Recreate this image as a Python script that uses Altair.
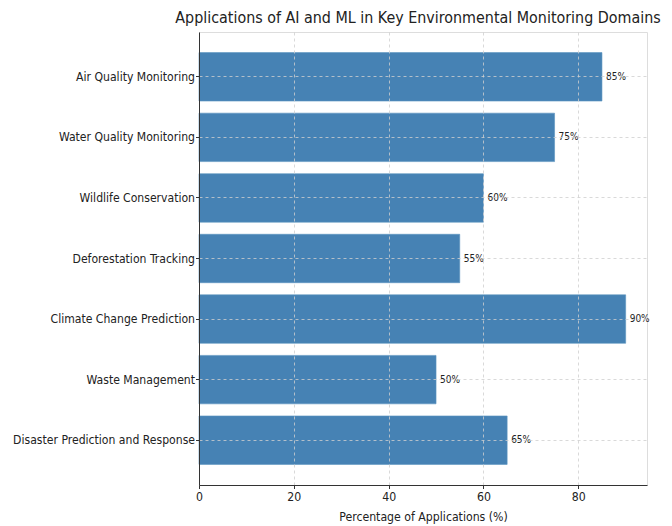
import altair as alt
import pandas as pd

# Application domains and their share of AI/ML applications (%)
domains = [
    "Air Quality Monitoring",
    "Water Quality Monitoring",
    "Wildlife Conservation",
    "Deforestation Tracking",
    "Climate Change Prediction",
    "Waste Management",
    "Disaster Prediction and Response",
]
percentages = [85, 75, 60, 55, 90, 50, 65]

df = pd.DataFrame({"domain": domains, "pct": percentages})
df["label"] = df["pct"].astype(str) + "%"

FONT = "DejaVu Sans Condensed"

y_enc = alt.Y(
    "domain:N",
    sort=domains,
    title=None,
    scale=alt.Scale(paddingInner=0.2, paddingOuter=0.34),
    axis=alt.Axis(
        bandPosition=0.5,
        grid=True,
        gridDash=[3, 3],
        gridColor="#cfcfcf",
        gridWidth=0.8,
        zindex=1,
        labelFontSize=12.1,
        labelFont=FONT,
        labelColor="#222",
        labelLimit=0,
        labelPadding=1,
        tickSize=3.5,
        tickColor="#333",
        domainColor="#333",
    ),
)

x_enc = alt.X(
    "pct:Q",
    title="Percentage of Applications (%)",
    scale=alt.Scale(domain=[0, 94.5], nice=False),
    axis=alt.Axis(
        values=[0, 20, 40, 60, 80],
        grid=True,
        gridDash=[3, 3],
        gridColor="#cfcfcf",
        gridWidth=0.8,
        zindex=1,
        labelFontSize=12.2,
        labelFont=FONT,
        labelColor="#222",
        labelFlush=False,
        titleFontSize=12.2,
        titleFont=FONT,
        titleFontWeight="normal",
        titleColor="#222",
        titlePadding=8,
        tickSize=3.5,
        tickColor="#333",
        domainColor="#333",
    ),
)

bars = alt.Chart(df).mark_bar(color="#4682b4", stroke="#5a93c0", strokeWidth=0.6).encode(
    x=x_enc, y=y_enc
)

labels = alt.Chart(df).mark_text(
    align="left", baseline="middle", dx=4, fontSize=10, font=FONT, color="#222"
).encode(
    x=alt.X("pct:Q"),
    y=alt.Y("domain:N", sort=domains),
    text="label:N",
)

chart = (
    alt.layer(bars, labels)
    .properties(
        width=448,
        height=453,
        autosize=alt.AutoSizeParams(type="none"),
        padding={"left": 199, "top": 32, "right": 25, "bottom": 41},
        title=alt.TitleParams(
            "Applications of AI and ML in Key Environmental Monitoring Domains",
            font=FONT,
            fontSize=15.9,
            fontWeight="normal",
            color="#222",
            anchor="middle",
            dx=-5,
            offset=6,
        ),
    )
    .configure_view(stroke=None)
    .configure(background="white")
)

chart.save("out.html", embed_options={"renderer": "svg", "actions": False})
